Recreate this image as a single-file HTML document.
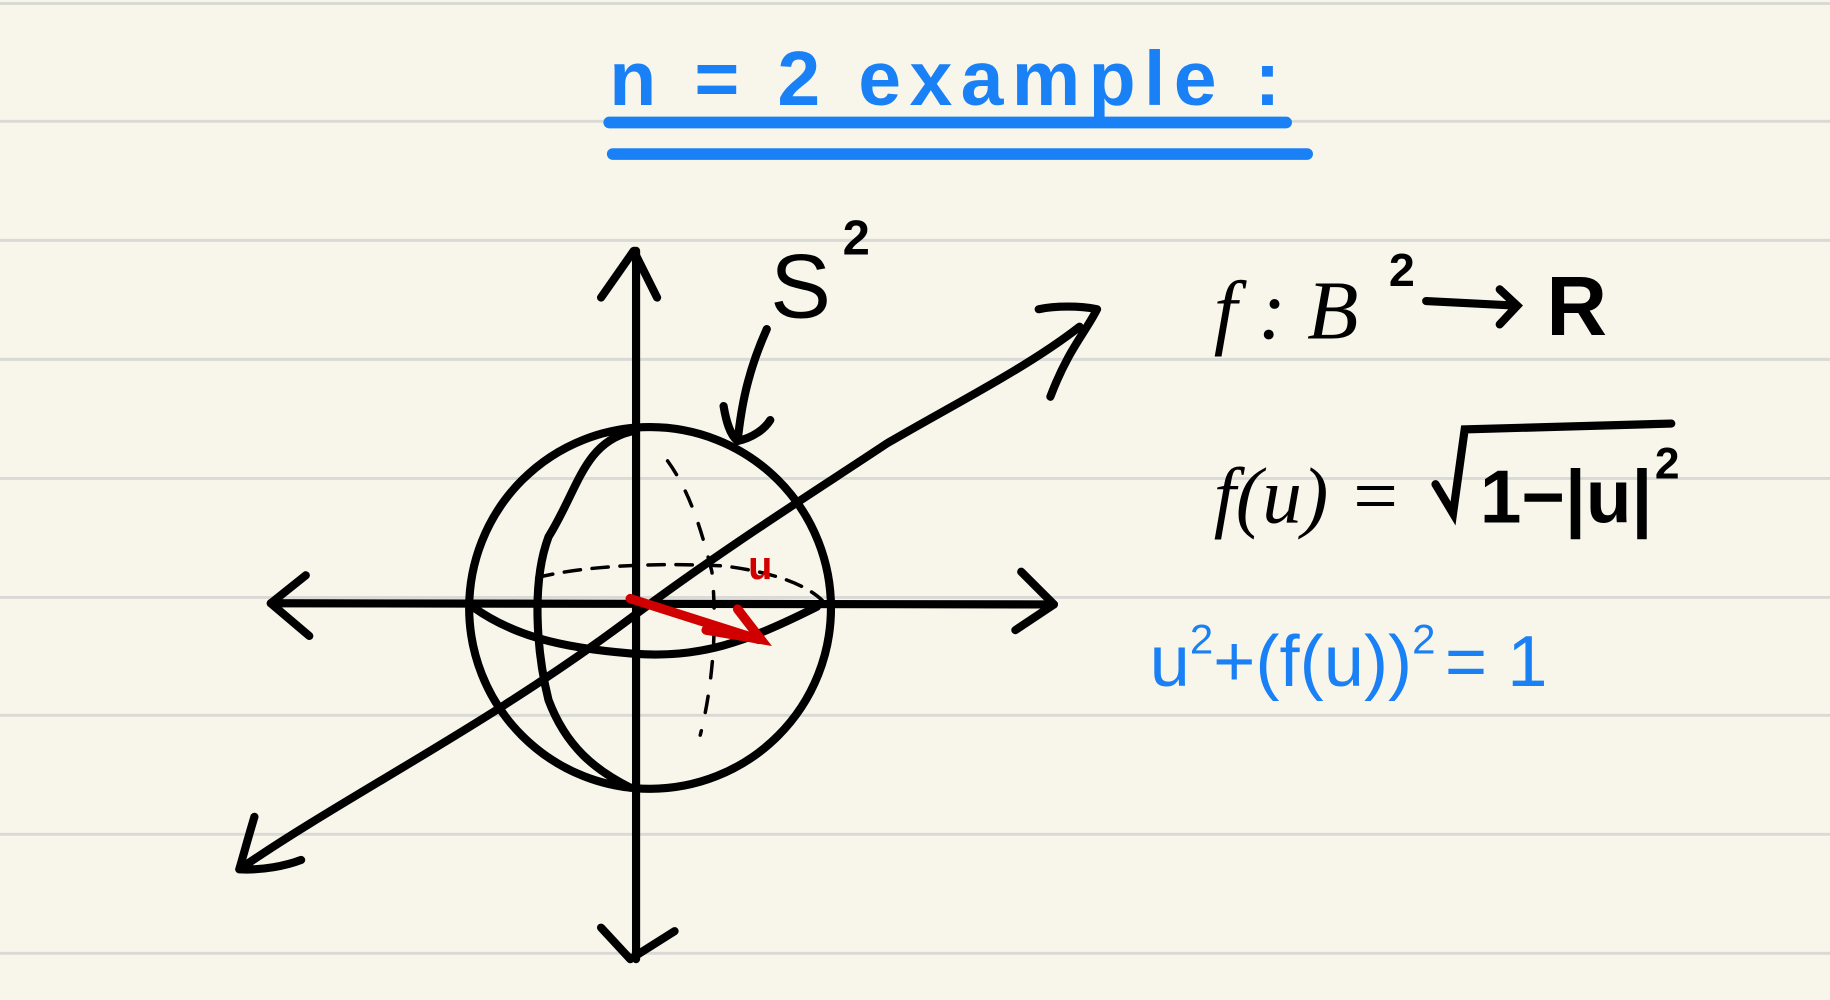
<!DOCTYPE html>
<html><head><meta charset="utf-8">
<style>
html,body{margin:0;padding:0;background:#f8f6ea;}
svg{display:block;}
</style></head>
<body>
<svg width="1830" height="1000" viewBox="0 0 1568 857" preserveAspectRatio="none">
<rect x="0" y="0" width="1568" height="857" fill="#f8f6ea"/>
<g stroke="#d9d9d6" stroke-width="2.5">
<line x1="0" y1="3" x2="1568" y2="3"/><line x1="0" y1="104" x2="1568" y2="104"/>
<line x1="0" y1="206" x2="1568" y2="206"/><line x1="0" y1="308" x2="1568" y2="308"/>
<line x1="0" y1="410" x2="1568" y2="410"/><line x1="0" y1="512" x2="1568" y2="512"/>
<line x1="0" y1="613" x2="1568" y2="613"/><line x1="0" y1="715" x2="1568" y2="715"/>
<line x1="0" y1="817" x2="1568" y2="817"/>
</g>
<text x="522" y="90" textLength="575" lengthAdjust="spacing" font-family="Liberation Sans, sans-serif" font-size="66" font-weight="bold" fill="#1a80f5">n = 2  example :</text>
<line x1="522" y1="105" x2="1102" y2="105" stroke="#1a80f5" stroke-width="10" stroke-linecap="round"/>
<line x1="525" y1="132" x2="1120" y2="132" stroke="#1a80f5" stroke-width="10" stroke-linecap="round"/>
<g fill="none" stroke="#000" stroke-width="7" stroke-linecap="round" stroke-linejoin="round">
<path d="M545 215 L545 822"/>
<path d="M515 255 L543 215 L563 255"/>
<path d="M515 795 L540 822 L578 798"/>
<path d="M232 517 L903 518"/>
<path d="M262 493 L232 517 L265 545"/>
<path d="M875 490 L903 518 L870 540"/>
<circle cx="557" cy="521" r="155"/>
<path d="M208 743 C300 680 420 620 540 530 C620 470 700 420 760 380 C820 345 880 315 925 280"/>
<path d="M890 265 C905 262 925 262 940 265 C930 285 915 300 900 340"/>
<path d="M218 700 C212 720 208 735 205 745 C225 746 245 742 258 737"/>
<path d="M540 370 C500 380 495 420 470 460 C455 500 460 560 470 600 C485 640 510 660 540 675"/>
<path d="M405 520 C440 545 480 555 540 560 C600 565 640 550 700 520"/>
<path d="M460 495 C500 485 560 482 620 485 C660 490 690 500 705 515" stroke-width="3" stroke-dasharray="14 10"/>
<path d="M572 395 C590 420 600 450 610 490 C615 540 610 590 600 630" stroke-width="3" stroke-dasharray="14 16"/>
<path d="M657 282 C640 320 635 350 632 378 C625 372 622 360 620 348 M632 378 C645 375 655 368 660 360"/>
</g>
<text x="660" y="272" font-family="Liberation Sans, sans-serif" font-size="78" fill="#000">S</text>
<text x="722" y="218" font-family="Liberation Sans, sans-serif" font-size="42" font-weight="bold" fill="#000">2</text>
<g stroke="#d00000" stroke-width="8" fill="none" stroke-linecap="round">
<path d="M540 513 L650 548"/><path d="M632 522 L652 548 L605 540"/>
</g>
<text x="641" y="496" font-family="Liberation Sans, sans-serif" font-size="34" font-weight="bold" fill="#d00000">u</text>
<text x="1040" y="290" font-family="Liberation Serif, serif" font-size="72" font-style="italic" fill="#000">f : B</text>
<text x="1190" y="245" font-family="Liberation Sans, sans-serif" font-size="40" font-weight="bold" fill="#000">2</text>
<path d="M1222 258 L1300 262 M1285 248 L1300 262 L1285 278" stroke="#000" stroke-width="7" fill="none" stroke-linecap="round"/>
<text x="1325" y="287" font-family="Liberation Sans, sans-serif" font-size="72" font-weight="bold" fill="#000">R</text>
<text x="1040" y="448" font-family="Liberation Serif, serif" font-size="68" font-style="italic" fill="#000">f(u) =</text>
<path d="M1230 415 L1245 440 L1255 368 L1432 363" stroke="#000" stroke-width="7" fill="none" stroke-linecap="round"/>
<text x="1268" y="448" font-family="Liberation Sans, sans-serif" font-size="64" font-weight="bold" fill="#000">1−|u|</text>
<text x="1418" y="410" font-family="Liberation Sans, sans-serif" font-size="38" font-weight="bold" fill="#000">2</text>
<text x="985" y="588" font-family="Liberation Sans, sans-serif" font-size="62" fill="#1a80f5">u<tspan dy="-28" font-size="36">2</tspan><tspan dy="28">+(f(u))</tspan><tspan dy="-28" font-size="36">2</tspan><tspan dy="28" dx="8">= 1</tspan></text>
</svg>
</body></html>
